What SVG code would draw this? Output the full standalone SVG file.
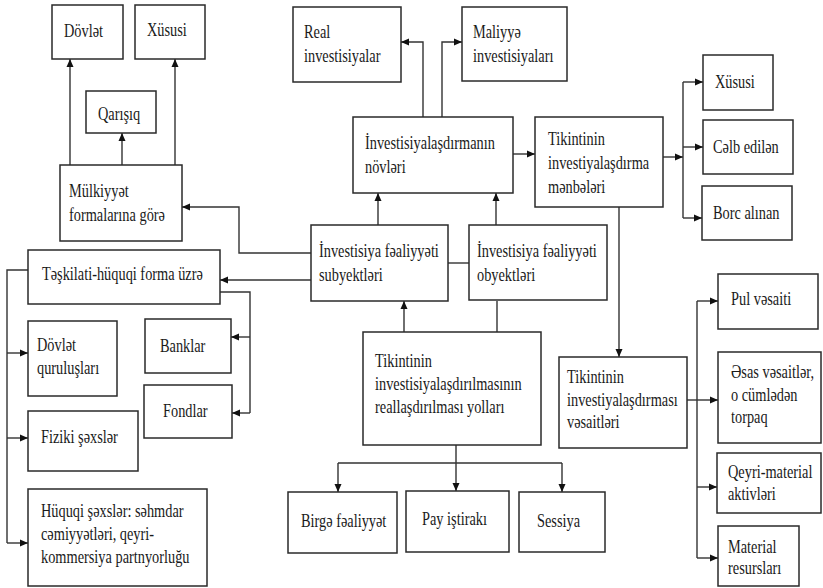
<svg xmlns="http://www.w3.org/2000/svg" width="823" height="588" viewBox="0 0 823 588">
<style>
.b{fill:#fff;stroke:#2a2a2a;stroke-width:1.5}
.c{fill:none;stroke:#333;stroke-width:1.4}
.t{font-family:"Liberation Serif","Times New Roman",serif;font-size:19px;fill:#1a1a1a}
</style>
<defs>
<marker id="a" markerWidth="8" markerHeight="8" refX="8" refY="4" orient="auto" markerUnits="userSpaceOnUse">
<path d="M0,0.5 L8,4 L0,7.5 Z" fill="#111"/>
</marker>
</defs>
<rect width="823" height="588" fill="#fff"/>
<g id="connectors">
<path class="c" d="M70 165V59" marker-end="url(#a)"/>
<path class="c" d="M122 165V133" marker-end="url(#a)"/>
<path class="c" d="M175 165V59" marker-end="url(#a)"/>
<path class="c" d="M311 253H239V207H182" marker-end="url(#a)"/>
<path class="c" d="M311 280H220" marker-end="url(#a)"/>
<path class="c" d="M28 270H7V543"/>
<path class="c" d="M7 353H28" marker-end="url(#a)"/>
<path class="c" d="M7 438H28" marker-end="url(#a)"/>
<path class="c" d="M7 543H28" marker-end="url(#a)"/>
<path class="c" d="M220 292H250V413"/>
<path class="c" d="M250 337H231" marker-end="url(#a)"/>
<path class="c" d="M250 413H232" marker-end="url(#a)"/>
<path class="c" d="M378 225V193" marker-end="url(#a)"/>
<path class="c" d="M496 225V193" marker-end="url(#a)"/>
<path class="c" d="M448 263H469"/>
<path class="c" d="M404 332V301" marker-end="url(#a)"/>
<path class="c" d="M497 332V301"/>
<path class="c" d="M423 117V42H401" marker-end="url(#a)"/>
<path class="c" d="M442 117V42H462" marker-end="url(#a)"/>
<path class="c" d="M513 154H535" marker-end="url(#a)"/>
<path class="c" d="M663 157H683" marker-end="url(#a)"/>
<path class="c" d="M683 82V218"/>
<path class="c" d="M683 82H703" marker-end="url(#a)"/>
<path class="c" d="M683 147H703" marker-end="url(#a)"/>
<path class="c" d="M683 218H702" marker-end="url(#a)"/>
<path class="c" d="M619 207V357" marker-end="url(#a)"/>
<path class="c" d="M687 400H718" marker-end="url(#a)"/>
<path class="c" d="M697 301V558"/>
<path class="c" d="M697 301H718" marker-end="url(#a)"/>
<path class="c" d="M697 487H717" marker-end="url(#a)"/>
<path class="c" d="M697 558H718" marker-end="url(#a)"/>
<path class="c" d="M456 445V463M338 463H562"/>
<path class="c" d="M338 463V492" marker-end="url(#a)"/>
<path class="c" d="M456 463V491" marker-end="url(#a)"/>
<path class="c" d="M562 463V492" marker-end="url(#a)"/>
</g>
<g id="n-dovlet"><rect class="b" x="52" y="5" width="71" height="54"/><text class="t" transform="translate(64,37) scale(0.755,1)">Dövlət</text></g>
<g id="n-xususi1"><rect class="b" x="135" y="5" width="70" height="54"/><text class="t" transform="translate(147,36) scale(0.755,1)">Xüsusi</text></g>
<g id="n-qarisiq"><rect class="b" x="86" y="91" width="70" height="42"/><text class="t" transform="translate(98,120) scale(0.755,1)">Qarışıq</text></g>
<g id="n-mulkiyyet"><rect class="b" x="60" y="165" width="122" height="76"/><text class="t" transform="translate(69,197) scale(0.755,1)"><tspan x="0" y="0">Mülkiyyət</tspan><tspan x="0" y="24">formalarına görə</tspan></text></g>
<g id="n-real"><rect class="b" x="293" y="7" width="108" height="75"/><text class="t" transform="translate(304,38) scale(0.755,1)"><tspan x="0" y="0">Real</tspan><tspan x="0" y="24">investisiyalar</tspan></text></g>
<g id="n-maliyye"><rect class="b" x="462" y="7" width="105" height="74"/><text class="t" transform="translate(473,38) scale(0.755,1)"><tspan x="0" y="0">Maliyyə</tspan><tspan x="0" y="24">investisiyaları</tspan></text></g>
<g id="n-novleri"><rect class="b" x="353" y="117" width="160" height="76"/><text class="t" transform="translate(365,149) scale(0.755,1)"><tspan x="0" y="0">İnvestisiyalaşdırmanın</tspan><tspan x="0" y="24">növləri</tspan></text></g>
<g id="n-menbeleri"><rect class="b" x="535" y="117" width="128" height="90"/><text class="t" transform="translate(548,145) scale(0.755,1)"><tspan x="0" y="0">Tikintinin</tspan><tspan x="0" y="24">investiyalaşdırma</tspan><tspan x="0" y="48">mənbələri</tspan></text></g>
<g id="n-xususi2"><rect class="b" x="703" y="55" width="70" height="55"/><text class="t" transform="translate(715,88) scale(0.755,1)">Xüsusi</text></g>
<g id="n-celb"><rect class="b" x="703" y="120" width="90" height="54"/><text class="t" transform="translate(713,153) scale(0.755,1)">Cəlb edilən</text></g>
<g id="n-borc"><rect class="b" x="702" y="186" width="90" height="54"/><text class="t" transform="translate(713,219) scale(0.755,1)">Borc alınan</text></g>
<g id="n-teskilati"><rect class="b" x="28" y="250" width="192" height="54"/><text class="t" transform="translate(42,280) scale(0.755,1)">Təşkilati-hüquqi forma üzrə</text></g>
<g id="n-subyekt"><rect class="b" x="311" y="225" width="137" height="76"/><text class="t" transform="translate(319,257) scale(0.755,1)"><tspan x="0" y="0">İnvestisiya fəaliyyəti</tspan><tspan x="0" y="24">subyektləri</tspan></text></g>
<g id="n-obyekt"><rect class="b" x="469" y="225" width="138" height="75"/><text class="t" transform="translate(477,257) scale(0.755,1)"><tspan x="0" y="0">İnvestisiya fəaliyyəti</tspan><tspan x="0" y="24">obyektləri</tspan></text></g>
<g id="n-dovletqur"><rect class="b" x="28" y="321" width="89" height="75"/><text class="t" transform="translate(37,351) scale(0.755,1)"><tspan x="0" y="0">Dövlət</tspan><tspan x="0" y="23">quruluşları</tspan></text></g>
<g id="n-banklar"><rect class="b" x="145" y="319" width="86" height="54"/><text class="t" transform="translate(160,352) scale(0.755,1)">Banklar</text></g>
<g id="n-fondlar"><rect class="b" x="144" y="385" width="88" height="53"/><text class="t" transform="translate(163,417) scale(0.755,1)">Fondlar</text></g>
<g id="n-fiziki"><rect class="b" x="28" y="411" width="110" height="60"/><text class="t" transform="translate(41,443) scale(0.755,1)">Fiziki şəxslər</text></g>
<g id="n-huquqi"><rect class="b" x="28" y="489" width="179" height="97"/><text class="t" transform="translate(41,517) scale(0.755,1)"><tspan x="0" y="0">Hüquqi şəxslər: səhmdar</tspan><tspan x="0" y="23">cəmiyyətləri, qeyri-</tspan><tspan x="0" y="46">kommersiya partnyorluğu</tspan></text></g>
<g id="n-yollari"><rect class="b" x="363" y="332" width="178" height="113"/><text class="t" transform="translate(375,367) scale(0.755,1)"><tspan x="0" y="0">Tikintinin</tspan><tspan x="0" y="23">investisiyalaşdırılmasının</tspan><tspan x="0" y="46">reallaşdırılması yolları</tspan></text></g>
<g id="n-vesaitleri"><rect class="b" x="559" y="357" width="128" height="91"/><text class="t" transform="translate(567,383) scale(0.755,1)"><tspan x="0" y="0">Tikintinin</tspan><tspan x="0" y="23">investiyalaşdırması</tspan><tspan x="0" y="45">vəsaitləri</tspan></text></g>
<g id="n-pul"><rect class="b" x="718" y="274" width="100" height="55"/><text class="t" transform="translate(731,305) scale(0.755,1)">Pul vəsaiti</text></g>
<g id="n-esas"><rect class="b" x="718" y="352" width="103" height="91"/><text class="t" transform="translate(731,378) scale(0.755,1)"><tspan x="0" y="0">Əsas vəsaitlər,</tspan><tspan x="0" y="23">o cümlədən</tspan><tspan x="0" y="45">torpaq</tspan></text></g>
<g id="n-qeyri"><rect class="b" x="717" y="453" width="104" height="60"/><text class="t" transform="translate(728,478) scale(0.755,1)"><tspan x="0" y="0">Qeyri-material</tspan><tspan x="0" y="22">aktivləri</tspan></text></g>
<g id="n-material"><rect class="b" x="718" y="526" width="81" height="60"/><text class="t" transform="translate(728,553) scale(0.755,1)"><tspan x="0" y="0">Material</tspan><tspan x="0" y="21">resursları</tspan></text></g>
<g id="n-birge"><rect class="b" x="288" y="492" width="109" height="61"/><text class="t" transform="translate(301,527) scale(0.755,1)">Birgə fəaliyyət</text></g>
<g id="n-pay"><rect class="b" x="406" y="491" width="103" height="61"/><text class="t" transform="translate(422,525) scale(0.755,1)">Pay iştirakı</text></g>
<g id="n-sessiya"><rect class="b" x="519" y="492" width="86" height="60"/><text class="t" transform="translate(537,527) scale(0.755,1)">Sessiya</text></g>
</svg>
